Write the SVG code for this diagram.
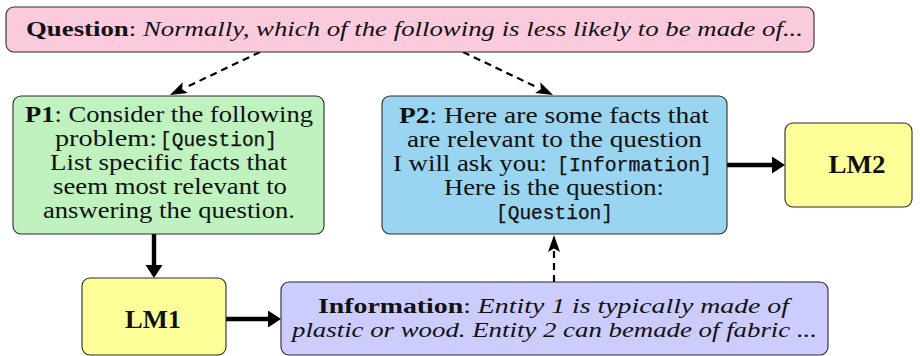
<svg xmlns="http://www.w3.org/2000/svg" width="920" height="356" viewBox="0 0 920 356">
<style>
.box{stroke:#2a2a2a;stroke-width:1.1}
.q{fill:#FBCADC}.p1{fill:#C0F2C0}.p2{fill:#99D4F0}.lm{fill:#FFFF99}.info{fill:#CCCCFF}
text{font-family:"Liberation Serif","Times New Roman",serif;fill:#111}
.t{font-size:23px}
.tq{font-size:22px}
.mono{font-family:"Liberation Mono","Courier New",monospace;font-size:19.5px;stroke:#111;stroke-width:0.25}
.lmt{font-size:25px;font-weight:bold}
.b{font-weight:bold}
.i{font-style:italic}
.solid{stroke:#000;stroke-width:4.4;fill:none}
.dash{stroke:#000;stroke-width:2.2;stroke-dasharray:7 5;fill:none}
</style>
<defs>
<marker id="hs" markerUnits="userSpaceOnUse" markerWidth="14" markerHeight="18" refX="1" refY="8.5" orient="auto">
<path d="M0,0 L13,8.5 L0,17 Z" fill="#000"/>
</marker>
<marker id="hd" markerUnits="userSpaceOnUse" markerWidth="18" markerHeight="13" refX="1" refY="6" orient="auto">
<path d="M0,0 L17,6 L0,12 L3.5,6 Z" fill="#000"/>
</marker>
</defs>

<g id="connectors">
<line class="dash" x1="260" y1="52" x2="184.4" y2="88.1" marker-end="url(#hd)"/>
<line class="dash" x1="463" y1="52" x2="538.6" y2="88.1" marker-end="url(#hd)"/>
<line class="dash" x1="554" y1="282" x2="554" y2="251" marker-end="url(#hd)"/>
<line class="solid" x1="154" y1="234" x2="154" y2="266" marker-end="url(#hs)"/>
<line class="solid" x1="226" y1="319" x2="269" y2="319" marker-end="url(#hs)"/>
<line class="solid" x1="727" y1="165" x2="773" y2="165" marker-end="url(#hs)"/>
</g>

<g id="question">
<rect class="box q" x="6" y="7" width="808" height="45" rx="8"/>
<text class="tq" x="26" y="36" textLength="777" lengthAdjust="spacingAndGlyphs"><tspan class="b">Question</tspan>: <tspan class="i">Normally, which of the following is less likely to be made of...</tspan></text>
</g>

<g id="p1">
<rect class="box p1" x="13" y="96" width="311" height="138" rx="8"/>
<text class="t" x="25" y="122" textLength="288" lengthAdjust="spacingAndGlyphs"><tspan class="b">P1</tspan>: Consider the following</text>
<text class="t" x="55" y="146" textLength="102" lengthAdjust="spacingAndGlyphs">problem:</text>
<text class="mono" x="160" y="146" textLength="117" lengthAdjust="spacingAndGlyphs">[Question]</text>
<text class="t" x="50" y="170" textLength="237" lengthAdjust="spacingAndGlyphs">List specific facts that</text>
<text class="t" x="53" y="194" textLength="234" lengthAdjust="spacingAndGlyphs">seem most relevant to</text>
<text class="t" x="43" y="218" textLength="252" lengthAdjust="spacingAndGlyphs">answering the question.</text>
</g>

<g id="p2">
<rect class="box p2" x="382" y="96" width="345" height="138" rx="8"/>
<text class="t" x="399" y="123" textLength="310" lengthAdjust="spacingAndGlyphs"><tspan class="b">P2</tspan>: Here are some facts that</text>
<text class="t" x="407" y="147" textLength="295" lengthAdjust="spacingAndGlyphs">are relevant to the question</text>
<text class="t" x="393" y="171" textLength="154" lengthAdjust="spacingAndGlyphs">I will ask you:</text>
<text class="mono" x="557" y="171" textLength="155" lengthAdjust="spacingAndGlyphs">[Information]</text>
<text class="t" x="444" y="195" textLength="220" lengthAdjust="spacingAndGlyphs">Here is the question:</text>
<text class="mono" x="496" y="219" textLength="117" lengthAdjust="spacingAndGlyphs">[Question]</text>
</g>

<g id="lm2">
<rect class="box lm" x="785" y="123" width="127" height="84" rx="8"/>
<text class="lmt" x="857" y="173" text-anchor="middle" textLength="57" lengthAdjust="spacingAndGlyphs">LM2</text>
</g>

<g id="lm1">
<rect class="box lm" x="82" y="278" width="144" height="77" rx="8"/>
<text class="lmt" x="153" y="328" text-anchor="middle" textLength="56" lengthAdjust="spacingAndGlyphs">LM1</text>
</g>

<g id="information">
<rect class="box info" x="281" y="282" width="547" height="73" rx="8"/>
<text class="tq" x="318" y="313" textLength="471" lengthAdjust="spacingAndGlyphs"><tspan class="b">Information</tspan>: <tspan class="i">Entity 1 is typically made of</tspan></text>
<text class="tq i" x="292" y="337" textLength="525" lengthAdjust="spacingAndGlyphs">plastic or wood. Entity 2 can bemade of fabric ...</text>
</g>
</svg>
